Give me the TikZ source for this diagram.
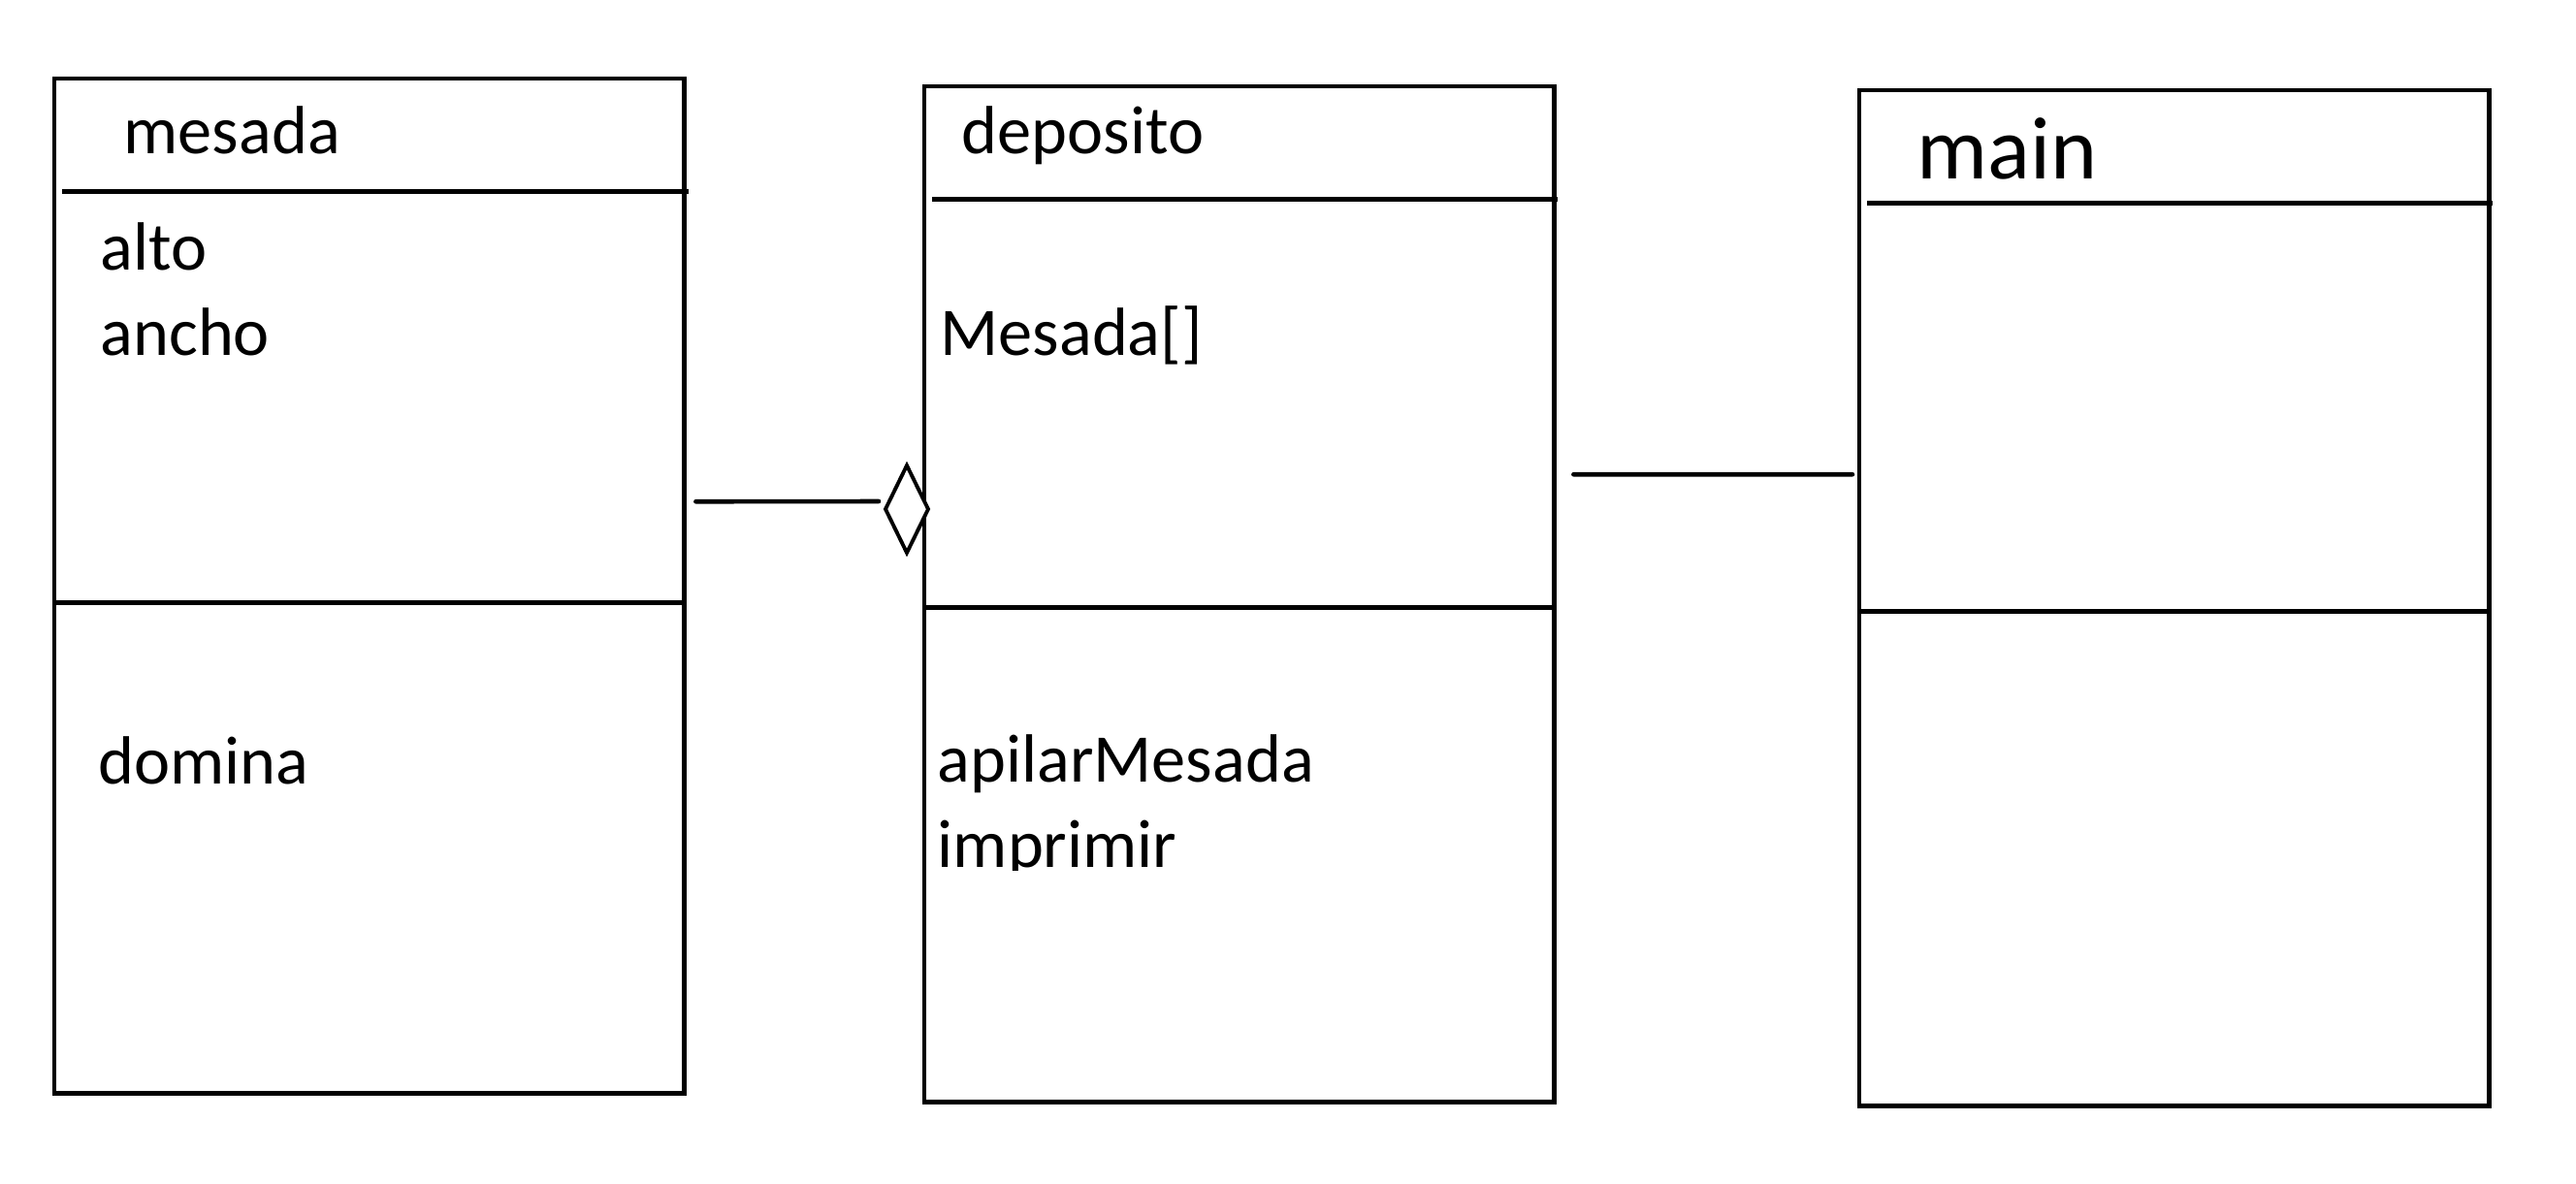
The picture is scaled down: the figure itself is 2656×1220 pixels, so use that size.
\documentclass[tikz,border=0pt]{standalone}
\usepackage{fontspec}
\setmainfont{Carlito}
\usetikzlibrary{shapes.geometric}

\begin{document}
\begin{tikzpicture}[x=0.01cm,y=-0.01cm]
 \tikzstyle{classbox} = [draw=black,line width=1.4pt,minimum width=6.49cm,inner sep=0,outer sep=0,anchor=north west];
 \tikzstyle{divider} = [line width=1.4pt];
 \tikzstyle{member} = [anchor=base west,inner sep=0,font=\fontsize{20}{24}\selectfont];
 \tikzstyle{assoc} = [line width=1.3pt,line cap=round];
 \tikzstyle{agg} = [diamond,draw=black,line width=1.1pt,inner sep=0,outer sep=0,minimum width=0.44cm,minimum height=0.9cm,fill=white];

 \useasboundingbox (0,0) rectangle (2656,1220);

 % classes
 \node[classbox,minimum height=10.46cm,name=mesada]   at (56,81)   {};
 \node[classbox,minimum height=10.47cm,name=deposito] at (953,89)  {};
 \node[classbox,minimum height=10.47cm,name=main]     at (1917,93) {};

 % compartments
 \draw[divider] ([shift={(0.08cm,-1.16cm)}]mesada.north west) -- ([shift={(0.05cm,-1.16cm)}]mesada.north east);
 \draw[divider] ([yshift=-5.40cm]mesada.north west) -- ([yshift=-5.40cm]mesada.north east);
 \draw[divider] ([shift={(0.08cm,-1.16cm)}]deposito.north west) -- ([shift={(0.04cm,-1.16cm)}]deposito.north east);
 \draw[divider] ([yshift=-5.37cm]deposito.north west) -- ([yshift=-5.37cm]deposito.north east);
 \draw[divider] ([shift={(0.08cm,-1.16cm)}]main.north west) -- ([shift={(0.04cm,-1.16cm)}]main.north east);
 \draw[divider] ([yshift=-5.37cm]main.north west) -- ([yshift=-5.37cm]main.north east);

 % texts
 \node[member,name=tmesada]   at (127,158) {mesada};
 \node[member,name=alto]      at (103,278) {alto};
 \node[member,name=ancho]     at (103,366) {ancho};
 \node[member,name=domina]    at (101,808) {domina};

 \node[member,name=tdeposito] at (991,158) {deposito};
 \node[member,name=arr]       at (969,366) {Mesada[]};
 \node[member,name=apilar]    at (966,806) {apilarMesada};
 \begin{scope}
  \clip (900,700) rectangle (1500,897);
  \node[member,name=imprimir] at (966,894) {imprimir};
 \end{scope}

 \node[member,font=\fontsize{26}{30}\selectfont,name=tmain] at (1976,184) {main};

 % relations
 \node[agg,name=agg] at (935,525) {};
 \draw[assoc] ([shift={(0.12cm,0.87cm)}]mesada.east) -- ([shift={(-0.07cm,0.08cm)}]agg.west);
 \draw[assoc] ([shift={(0.20cm,1.235cm)}]deposito.east) -- ([shift={(-0.07cm,1.275cm)}]main.west);
\end{tikzpicture}
\end{document}
